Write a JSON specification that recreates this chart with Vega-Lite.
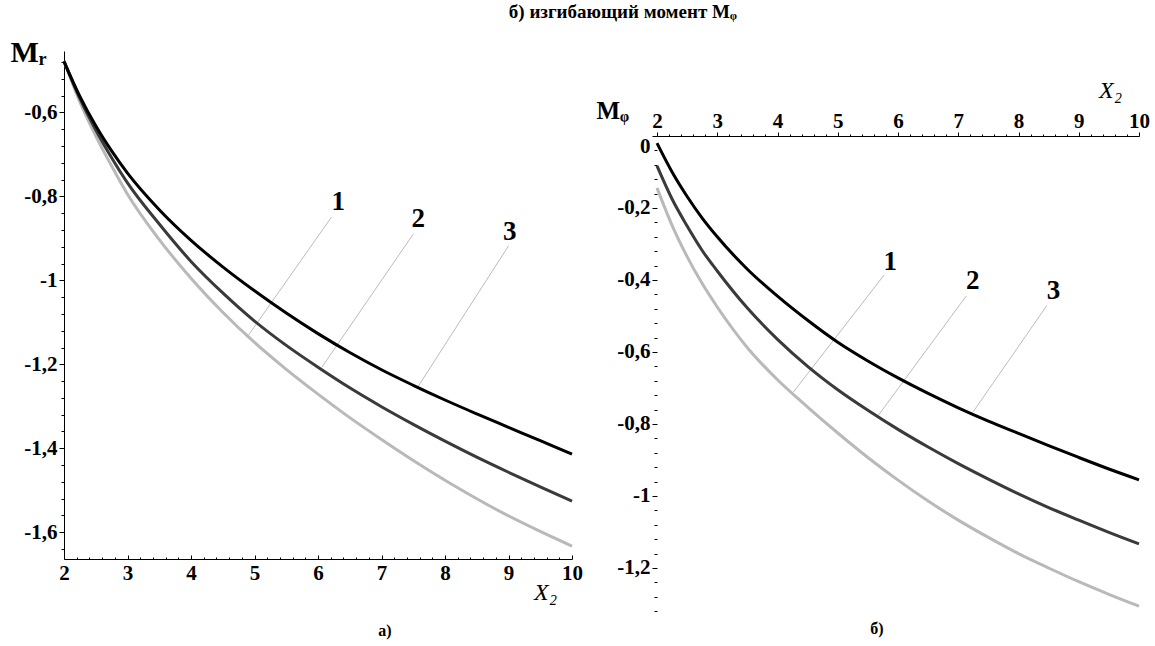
{
  "$schema": "https://vega.github.io/schema/vega-lite/v6.json",
  "background": "white",
  "padding": {"left": 10, "top": 3, "right": 2, "bottom": 2},
  "title": {"text": "б) изгибающий момент Mᵩ", "font": "Liberation Serif", "fontSize": 19, "fontWeight": "bold", "color": "black", "anchor": "middle", "frame": "bounds", "dx": 43, "offset": 15},
  "bounds": "flush",
  "spacing": 85,
  "datasets": {
    "leftCurves": [
      {"curve": "1", "x": 2, "y": -0.478}, {"curve": "1", "x": 2.25, "y": -0.575}, {"curve": "1", "x": 2.5, "y": -0.656}, {"curve": "1", "x": 2.75, "y": -0.728}, {"curve": "1", "x": 3, "y": -0.795}, {"curve": "1", "x": 3.5, "y": -0.903}, {"curve": "1", "x": 4, "y": -0.995}, {"curve": "1", "x": 4.5, "y": -1.076}, {"curve": "1", "x": 5, "y": -1.148}, {"curve": "1", "x": 5.5, "y": -1.212}, {"curve": "1", "x": 6, "y": -1.271}, {"curve": "1", "x": 6.5, "y": -1.327}, {"curve": "1", "x": 7, "y": -1.379}, {"curve": "1", "x": 7.5, "y": -1.429}, {"curve": "1", "x": 8, "y": -1.476}, {"curve": "1", "x": 8.5, "y": -1.52}, {"curve": "1", "x": 9, "y": -1.561}, {"curve": "1", "x": 9.5, "y": -1.598}, {"curve": "1", "x": 10, "y": -1.633},
      {"curve": "2", "x": 2, "y": -0.478}, {"curve": "2", "x": 2.25, "y": -0.567}, {"curve": "2", "x": 2.5, "y": -0.642}, {"curve": "2", "x": 2.75, "y": -0.708}, {"curve": "2", "x": 3, "y": -0.768}, {"curve": "2", "x": 3.5, "y": -0.866}, {"curve": "2", "x": 4, "y": -0.955}, {"curve": "2", "x": 4.5, "y": -1.03}, {"curve": "2", "x": 5, "y": -1.097}, {"curve": "2", "x": 5.5, "y": -1.155}, {"curve": "2", "x": 6, "y": -1.207}, {"curve": "2", "x": 6.5, "y": -1.256}, {"curve": "2", "x": 7, "y": -1.301}, {"curve": "2", "x": 7.5, "y": -1.343}, {"curve": "2", "x": 8, "y": -1.383}, {"curve": "2", "x": 8.5, "y": -1.421}, {"curve": "2", "x": 9, "y": -1.457}, {"curve": "2", "x": 9.5, "y": -1.492}, {"curve": "2", "x": 10, "y": -1.526},
      {"curve": "3", "x": 2, "y": -0.479}, {"curve": "3", "x": 2.25, "y": -0.562}, {"curve": "3", "x": 2.5, "y": -0.632}, {"curve": "3", "x": 2.75, "y": -0.692}, {"curve": "3", "x": 3, "y": -0.745}, {"curve": "3", "x": 3.5, "y": -0.832}, {"curve": "3", "x": 4, "y": -0.905}, {"curve": "3", "x": 4.5, "y": -0.968}, {"curve": "3", "x": 5, "y": -1.025}, {"curve": "3", "x": 5.5, "y": -1.078}, {"curve": "3", "x": 6, "y": -1.127}, {"curve": "3", "x": 6.5, "y": -1.172}, {"curve": "3", "x": 7, "y": -1.213}, {"curve": "3", "x": 7.5, "y": -1.25}, {"curve": "3", "x": 8, "y": -1.285}, {"curve": "3", "x": 8.5, "y": -1.318}, {"curve": "3", "x": 9, "y": -1.35}, {"curve": "3", "x": 9.5, "y": -1.382}, {"curve": "3", "x": 10, "y": -1.414}
    ],
    "rightCurves": [
      {"curve": "1", "x": 2, "y": -0.144}, {"curve": "1", "x": 2.25, "y": -0.248}, {"curve": "1", "x": 2.5, "y": -0.335}, {"curve": "1", "x": 2.75, "y": -0.41}, {"curve": "1", "x": 3, "y": -0.475}, {"curve": "1", "x": 3.5, "y": -0.588}, {"curve": "1", "x": 4, "y": -0.677}, {"curve": "1", "x": 4.5, "y": -0.753}, {"curve": "1", "x": 5, "y": -0.825}, {"curve": "1", "x": 5.5, "y": -0.893}, {"curve": "1", "x": 6, "y": -0.956}, {"curve": "1", "x": 6.5, "y": -1.014}, {"curve": "1", "x": 7, "y": -1.067}, {"curve": "1", "x": 7.5, "y": -1.115}, {"curve": "1", "x": 8, "y": -1.16}, {"curve": "1", "x": 8.5, "y": -1.2}, {"curve": "1", "x": 9, "y": -1.238}, {"curve": "1", "x": 9.5, "y": -1.273}, {"curve": "1", "x": 10, "y": -1.306},
      {"curve": "2", "x": 2, "y": -0.083}, {"curve": "2", "x": 2.25, "y": -0.175}, {"curve": "2", "x": 2.5, "y": -0.25}, {"curve": "2", "x": 2.75, "y": -0.318}, {"curve": "2", "x": 3, "y": -0.375}, {"curve": "2", "x": 3.5, "y": -0.478}, {"curve": "2", "x": 4, "y": -0.565}, {"curve": "2", "x": 4.5, "y": -0.64}, {"curve": "2", "x": 5, "y": -0.705}, {"curve": "2", "x": 5.5, "y": -0.762}, {"curve": "2", "x": 6, "y": -0.815}, {"curve": "2", "x": 6.5, "y": -0.864}, {"curve": "2", "x": 7, "y": -0.91}, {"curve": "2", "x": 7.5, "y": -0.953}, {"curve": "2", "x": 8, "y": -0.994}, {"curve": "2", "x": 8.5, "y": -1.032}, {"curve": "2", "x": 9, "y": -1.067}, {"curve": "2", "x": 9.5, "y": -1.101}, {"curve": "2", "x": 10, "y": -1.133},
      {"curve": "3", "x": 2, "y": -0.02}, {"curve": "3", "x": 2.25, "y": -0.1}, {"curve": "3", "x": 2.5, "y": -0.168}, {"curve": "3", "x": 2.75, "y": -0.228}, {"curve": "3", "x": 3, "y": -0.28}, {"curve": "3", "x": 3.5, "y": -0.37}, {"curve": "3", "x": 4, "y": -0.445}, {"curve": "3", "x": 4.5, "y": -0.512}, {"curve": "3", "x": 5, "y": -0.573}, {"curve": "3", "x": 5.5, "y": -0.625}, {"curve": "3", "x": 6, "y": -0.672}, {"curve": "3", "x": 6.5, "y": -0.715}, {"curve": "3", "x": 7, "y": -0.755}, {"curve": "3", "x": 7.5, "y": -0.792}, {"curve": "3", "x": 8, "y": -0.826}, {"curve": "3", "x": 8.5, "y": -0.86}, {"curve": "3", "x": 9, "y": -0.893}, {"curve": "3", "x": 9.5, "y": -0.925}, {"curve": "3", "x": 10, "y": -0.955}
    ],
    "leftLabels": [
      {"label": "1", "x": 6.32, "y": -0.814}, {"label": "2", "x": 7.58, "y": -0.854}, {"label": "3", "x": 9.02, "y": -0.886}
    ],
    "rightLabels": [
      {"label": "1", "x": 5.87, "y": -0.351}, {"label": "2", "x": 7.24, "y": -0.402}, {"label": "3", "x": 8.58, "y": -0.43}
    ],
    "leftLeaders": [
      {"x": 6.21, "y": -0.85, "x2": 4.88, "y2": -1.136}, {"x": 7.5, "y": -0.89, "x2": 6.06, "y2": -1.207}, {"x": 9.0, "y": -0.918, "x2": 7.58, "y2": -1.252}
    ],
    "rightLeaders": [
      {"x": 5.77, "y": -0.386, "x2": 4.26, "y2": -0.712}, {"x": 7.13, "y": -0.445, "x2": 5.67, "y2": -0.777}, {"x": 8.47, "y": -0.471, "x2": 7.24, "y2": -0.768}
    ]
  },
  "hconcat": [
    {
      "width": 508,
      "height": 508,
      "title": {"text": "а)", "orient": "bottom", "anchor": "middle", "frame": "group", "dx": 67, "offset": 19, "font": "Liberation Serif", "fontSize": 16, "fontWeight": "bold", "color": "black"},
      "encoding": {
        "x": {"field": "x", "type": "quantitative", "scale": {"domain": [2, 10], "nice": false, "zero": false},
          "axis": {"orient": "bottom", "grid": false, "values": [2,2.2,2.4,2.6,2.8,3,3.2,3.4,3.6,3.8,4,4.2,4.4,4.6,4.8,5,5.2,5.4,5.6,5.8,6,6.2,6.4,6.6,6.8,7,7.2,7.4,7.6,7.8,8,8.2,8.4,8.6,8.8,9,9.2,9.4,9.6,9.8,10],
            "labelExpr": "abs(datum.value-round(datum.value))<1e-6 ? toString(round(datum.value)) : ''",
            "labelOverlap": false, "labelFlush": false, "labelFont": "Liberation Serif", "labelFontSize": 21, "labelFontWeight": "bold", "labelColor": "black", "labelPadding": 7,
            "tickColor": "black", "tickWidth": 1, "tickSize": {"condition": {"test": "abs(datum.value-round(datum.value))<1e-6", "value": -4}, "value": -2},
            "domainColor": "black", "domainWidth": 1,
            "title": "X₂", "titleFont": "Liberation Serif", "titleFontSize": 24, "titleFontStyle": "italic", "titleFontWeight": "normal", "titleColor": "black", "titleX": 481, "titleY": 33, "titleAlign": "center", "titleBaseline": "middle", "titleAngle": 0}},
        "y": {"field": "y", "type": "quantitative", "scale": {"domain": [-1.6636, -0.454], "nice": false, "zero": false},
          "axis": {"orient": "left", "grid": false, "values": [-0.48,-0.52,-0.56,-0.6,-0.64,-0.68,-0.72,-0.76,-0.8,-0.84,-0.88,-0.92,-0.96,-1,-1.04,-1.08,-1.12,-1.16,-1.2,-1.24,-1.28,-1.32,-1.36,-1.4,-1.44,-1.48,-1.52,-1.56,-1.6,-1.64],
            "labelExpr": "abs(datum.value*5-round(datum.value*5))<1e-6 ? replace(toString(round(datum.value*10)/10), '.', ',') : ''",
            "labelOverlap": false, "labelFlush": false, "labelFont": "Liberation Serif", "labelFontSize": 21, "labelFontWeight": "bold", "labelColor": "black", "labelPadding": 2,
            "tickColor": "black", "tickWidth": 1, "tickSize": {"condition": {"test": "abs(datum.value*5-round(datum.value*5))<1e-6", "value": 5}, "value": 3},
            "domainColor": "black", "domainWidth": 1,
            "title": "Mᵣ", "titleFont": "Liberation Serif", "titleFontSize": 30, "titleFontWeight": "bold", "titleColor": "black", "titleAngle": 0, "titleX": -54, "titleY": 10, "titleAlign": "left", "titleBaseline": "alphabetic"}}
      },
      "layer": [
        {"data": {"name": "leftLeaders"}, "mark": {"type": "rule", "color": "#bcbcbc", "strokeWidth": 1}, "encoding": {"x2": {"field": "x2"}, "y2": {"field": "y2"}}},
        {"data": {"name": "leftCurves"}, "mark": {"type": "line", "strokeWidth": 3, "interpolate": "monotone"},
          "encoding": {"color": {"field": "curve", "type": "nominal", "scale": {"domain": ["1", "2", "3"], "range": ["#b9b9b9", "#3a3a3a", "#000000"]}, "legend": null}}},
        {"data": {"name": "leftLabels"}, "mark": {"type": "text", "font": "Liberation Serif", "fontSize": 27, "fontWeight": "bold", "color": "black", "align": "center", "baseline": "middle"},
          "encoding": {"text": {"field": "label"}}}
      ]
    },
    {
      "width": 482,
      "height": 563,
      "title": {"text": "б)", "orient": "bottom", "anchor": "middle", "frame": "group", "dx": -21, "offset": 0, "font": "Liberation Serif", "fontSize": 16, "fontWeight": "bold", "color": "black"},
      "encoding": {
        "x": {"field": "x", "type": "quantitative", "scale": {"domain": [2, 10], "nice": false, "zero": false},
          "axis": {"orient": "top", "offset": -85, "grid": false, "values": [2,2.2,2.4,2.6,2.8,3,3.2,3.4,3.6,3.8,4,4.2,4.4,4.6,4.8,5,5.2,5.4,5.6,5.8,6,6.2,6.4,6.6,6.8,7,7.2,7.4,7.6,7.8,8,8.2,8.4,8.6,8.8,9,9.2,9.4,9.6,9.8,10],
            "labelExpr": "abs(datum.value-round(datum.value))<1e-6 ? toString(round(datum.value)) : ''",
            "labelOverlap": false, "labelFlush": false, "labelFont": "Liberation Serif", "labelFontSize": 21, "labelFontWeight": "bold", "labelColor": "black", "labelPadding": 1,
            "tickColor": "black", "tickWidth": 1, "tickSize": {"condition": {"test": "abs(datum.value-round(datum.value))<1e-6", "value": 4}, "value": 2},
            "domainColor": "black", "domainWidth": 1,
            "title": "X₂", "titleFont": "Liberation Serif", "titleFontSize": 24, "titleFontStyle": "italic", "titleFontWeight": "normal", "titleColor": "black", "titleX": 453, "titleY": -46, "titleAlign": "center", "titleBaseline": "middle", "titleAngle": 0}},
        "y": {"field": "y", "type": "quantitative", "scale": {"domain": [-1.3278, 0.2361], "nice": false, "zero": false},
          "axis": {"orient": "left", "grid": false, "domain": false, "values": [0,-0.04,-0.08,-0.12,-0.16,-0.2,-0.24,-0.28,-0.32,-0.36,-0.4,-0.44,-0.48,-0.52,-0.56,-0.6,-0.64,-0.68,-0.72,-0.76,-0.8,-0.84,-0.88,-0.92,-0.96,-1,-1.04,-1.08,-1.12,-1.16,-1.2,-1.24,-1.28,-1.32],
            "labelExpr": "abs(datum.value*5-round(datum.value*5))<1e-6 ? replace(toString(round(datum.value*10)/10), '.', ',') : ''",
            "labelOverlap": false, "labelFlush": false, "labelFont": "Liberation Serif", "labelFontSize": 21, "labelFontWeight": "bold", "labelColor": "black", "labelPadding": 2,
            "labelOffset": {"condition": {"test": "datum.value === 0", "value": 11}, "value": 0},
            "tickColor": "black", "tickWidth": 1, "tickSize": {"condition": {"test": "abs(datum.value*5-round(datum.value*5))<1e-6", "value": 5}, "value": 3},
            "title": "Mᵩ", "titleFont": "Liberation Serif", "titleFontSize": 25, "titleFontWeight": "bold", "titleColor": "black", "titleAngle": 0, "titleX": -61, "titleY": 67, "titleAlign": "left", "titleBaseline": "alphabetic"}}
      },
      "layer": [
        {"data": {"values": [{}]}, "mark": {"type": "rule", "color": "black", "strokeWidth": 1},
          "encoding": {"x": {"datum": 2}, "y": {"datum": 0}, "y2": {"datum": -1.3278}}},
        {"data": {"name": "rightLeaders"}, "mark": {"type": "rule", "color": "#bcbcbc", "strokeWidth": 1}, "encoding": {"x2": {"field": "x2"}, "y2": {"field": "y2"}}},
        {"data": {"name": "rightCurves"}, "mark": {"type": "line", "strokeWidth": 3, "interpolate": "monotone"},
          "encoding": {"color": {"field": "curve", "type": "nominal", "scale": {"domain": ["1", "2", "3"], "range": ["#b9b9b9", "#3a3a3a", "#000000"]}, "legend": null}}},
        {"data": {"name": "rightLabels"}, "mark": {"type": "text", "font": "Liberation Serif", "fontSize": 27, "fontWeight": "bold", "color": "black", "align": "center", "baseline": "middle"},
          "encoding": {"text": {"field": "label"}}}
      ]
    }
  ],
  "config": {"view": {"stroke": null}, "font": "Liberation Serif"}
}
